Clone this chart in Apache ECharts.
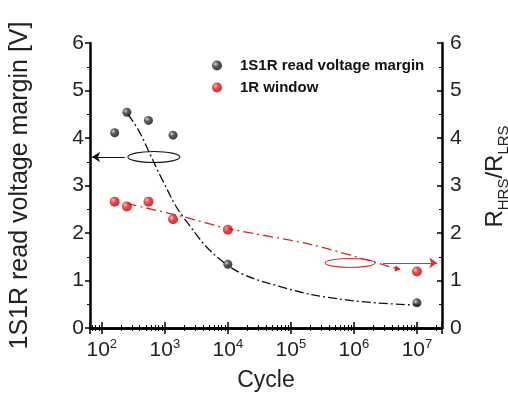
<!DOCTYPE html>
<html>
<head>
<meta charset="utf-8">
<script src="https://cdn.jsdelivr.net/npm/echarts@6/dist/echarts.min.js"></script>
<style>
    html, body { margin: 0; padding: 0; background: #fff; }
    #main { width: 508px; height: 394px; }
</style>
</head>
<body>
<div id="main"></div>
<script>
// 数据
var cycles = [160, 250, 550, 1350, 10000, 10000000];
var margin1S1R = [4.11, 4.54, 4.37, 4.06, 1.34, 0.53];
var window1R = [2.66, 2.56, 2.66, 2.29, 2.07, 1.19];

// 拟合曲线
var fitBlackX = [260, 380, 575, 890, 1950, 9500, 68000, 760000, 11000000];
var fitBlackY = [4.5, 4.17, 3.68, 3.15, 2.34, 1.34, 0.87, 0.59, 0.48];
var fitRedX = [250, 2000, 9500, 220000, 5000000];
var fitRedY = [2.62, 2.34, 2.10, 1.75, 1.24];

function pairs(xs, ys) {
    var arr = [];
    for (var i = 0; i < xs.length; i++) {
        arr.push([xs[i], ys[i]]);
    }
    return arr;
}

var FONT = 'Liberation Sans, Arial, sans-serif';

var blackBall = {
    type: 'radial', x: 0.35, y: 0.35, r: 0.75,
    colorStops: [{ offset: 0, color: '#c8c8c8' }, { offset: 0.35, color: '#3a3a3a' }, { offset: 1, color: '#000' }]
};
var redBall = {
    type: 'radial', x: 0.35, y: 0.35, r: 0.75,
    colorStops: [{ offset: 0, color: '#ffc0c0' }, { offset: 0.35, color: '#ee1d1d' }, { offset: 1, color: '#a80000' }]
};

var redData = pairs(fitRedX, fitRedY);
var last = redData.pop();
redData.push({ value: last, symbol: 'triangle', symbolSize: 6, symbolRotate: -100 });

var myChart = echarts.init(document.getElementById('main'));

var option = {
    animation: false,
    grid: { left: 90, right: 66, top: 43, bottom: 66, outerBoundsMode: 'none', containLabel: false },
    legend: {
        data: ['1S1R read voltage margin', '1R window'],
        orient: 'vertical',
        left: 207,
        top: 53,
        itemWidth: 36,
        itemHeight: 10,
        itemGap: 7,
        icon: 'circle',
        textStyle: { fontFamily: FONT, fontWeight: 'bold', fontSize: 15, color: '#111' }
    },
    xAxis: [{
        type: 'log',
        logBase: 10,
        min: 65,
        max: 25000000,
        name: 'Cycle',
        nameLocation: 'middle',
        nameGap: 41,
        nameTextStyle: { fontFamily: FONT, fontSize: 23, color: '#222' },
        axisLine: { lineStyle: { color: '#000', width: 2.5 } },
        axisTick: { inside: true, length: 6, lineStyle: { color: '#000', width: 1.5 } },
        minorTick: { show: true, splitNumber: 9, length: 3, lineStyle: { color: '#000' } },
        splitLine: { show: false },
        axisLabel: {
            showMinLabel: false,
            showMaxLabel: false,
            margin: 10,
            formatter: function (v) {
                return '{b|10}{s|' + Math.round(Math.log10(v)) + '}';
            },
            rich: {
                b: { fontFamily: FONT, fontSize: 21, color: '#222', lineHeight: 24 },
                s: { fontFamily: FONT, fontSize: 13, color: '#222', lineHeight: 13, verticalAlign: 'top' }
            }
        }
    }, {
        type: 'log',
        logBase: 10,
        min: 65,
        max: 25000000,
        position: 'top',
        axisLine: { lineStyle: { color: '#000', width: 2.5 } },
        axisTick: { inside: true, length: 6, lineStyle: { color: '#000', width: 1.5 } },
        minorTick: { show: true, splitNumber: 9, length: 3, lineStyle: { color: '#000' } },
        splitLine: { show: false },
        axisLabel: { show: false }
    }],
    yAxis: [{
        type: 'value',
        min: 0,
        max: 6,
        interval: 1,
        name: '1S1R read voltage margin [V]',
        nameLocation: 'middle',
        nameRotate: 90,
        nameGap: 57,
        nameTextStyle: { fontFamily: FONT, fontSize: 25, color: '#222' },
        axisLine: { show: true, lineStyle: { color: '#000', width: 2.5 } },
        axisTick: { show: true, inside: false, length: 5, lineStyle: { color: '#000', width: 1.5 } },
        minorTick: { show: true, splitNumber: 2, length: 3, lineStyle: { color: '#000' } },
        splitLine: { show: false },
        axisLabel: { fontFamily: FONT, fontSize: 21, color: '#222', margin: 6 }
    }, {
        type: 'value',
        min: 0,
        max: 6,
        interval: 1,
        position: 'right',
        name: '{r|R}{sub|HRS}{r|/R}{sub|LRS}',
        nameLocation: 'middle',
        nameRotate: 90,
        nameGap: 37,
        nameTextStyle: {
            padding: [0, 0, 0, 18],
            rich: {
                r: { fontFamily: FONT, fontSize: 24, color: '#222', lineHeight: 28, verticalAlign: 'bottom' },
                sub: { fontFamily: FONT, fontSize: 15, color: '#222', lineHeight: 15, verticalAlign: 'bottom', padding: [0, 0, -4, 0] }
            }
        },
        axisLine: { show: true, lineStyle: { color: '#000', width: 2.5 } },
        axisTick: { show: true, inside: true, length: 5, lineStyle: { color: '#000', width: 1.5 } },
        minorTick: { show: true, splitNumber: 2, length: 3, lineStyle: { color: '#000' } },
        splitLine: { show: false },
        axisLabel: { fontFamily: FONT, fontSize: 21, color: '#222', margin: 8 }
    }],
    series: [{
        name: 'fitBlack',
        type: 'line',
        smooth: 0.4,
        symbol: 'none',
        xAxisIndex: 0,
        yAxisIndex: 0,
        lineStyle: { color: '#111', width: 1.3, type: [9, 3, 2, 3] },
        data: pairs(fitBlackX, fitBlackY),
        markLine: {
            silent: true,
            symbol: ['none', 'arrow'],
            symbolSize: 8,
            label: { show: false },
            lineStyle: { color: '#111', width: 1.2, type: 'solid' },
            data: [[{ coord: [232, 3.6] }, { coord: [70, 3.6] }]]
        }
    }, {
        name: 'fitRed',
        type: 'line',
        smooth: 0.3,
        symbol: 'none',
        xAxisIndex: 0,
        yAxisIndex: 1,
        itemStyle: { color: '#d8252b' },
        lineStyle: { color: '#d8252b', width: 1.3, type: [10, 4, 2, 4] },
        data: redData,
        markLine: {
            silent: true,
            symbol: ['none', 'arrow'],
            symbolSize: 8,
            label: { show: false },
            lineStyle: { color: '#e03030', width: 1.2, type: 'solid' },
            data: [[{ coord: [2900000, 1.37] }, { coord: [21000000, 1.37] }]]
        }
    }, {
        name: '1S1R read voltage margin',
        type: 'scatter',
        symbolSize: 9,
        xAxisIndex: 0,
        yAxisIndex: 0,
        itemStyle: { color: blackBall },
        data: pairs(cycles, margin1S1R),
        z: 5
    }, {
        name: '1R window',
        type: 'scatter',
        symbolSize: 10,
        xAxisIndex: 0,
        yAxisIndex: 1,
        itemStyle: { color: redBall },
        data: pairs(cycles, window1R),
        z: 5
    }]
};

myChart.setOption(option);

// 椭圆标注
var c1 = myChart.convertToPixel({ xAxisIndex: 0, yAxisIndex: 0 }, [670, 3.6]);
var c2 = myChart.convertToPixel({ xAxisIndex: 0, yAxisIndex: 1 }, [870000, 1.37]);
myChart.setOption({
    graphic: [{
        type: 'ellipse',
        shape: { cx: c1[0], cy: c1[1], rx: 26, ry: 5.5 },
        style: { fill: 'none', stroke: '#111', lineWidth: 1.1 },
        z: 10
    }, {
        type: 'ellipse',
        shape: { cx: c2[0], cy: c2[1], rx: 25, ry: 4.5 },
        style: { fill: 'none', stroke: '#e03030', lineWidth: 1.1 },
        z: 10
    }]
});
</script>
</body>
</html>
